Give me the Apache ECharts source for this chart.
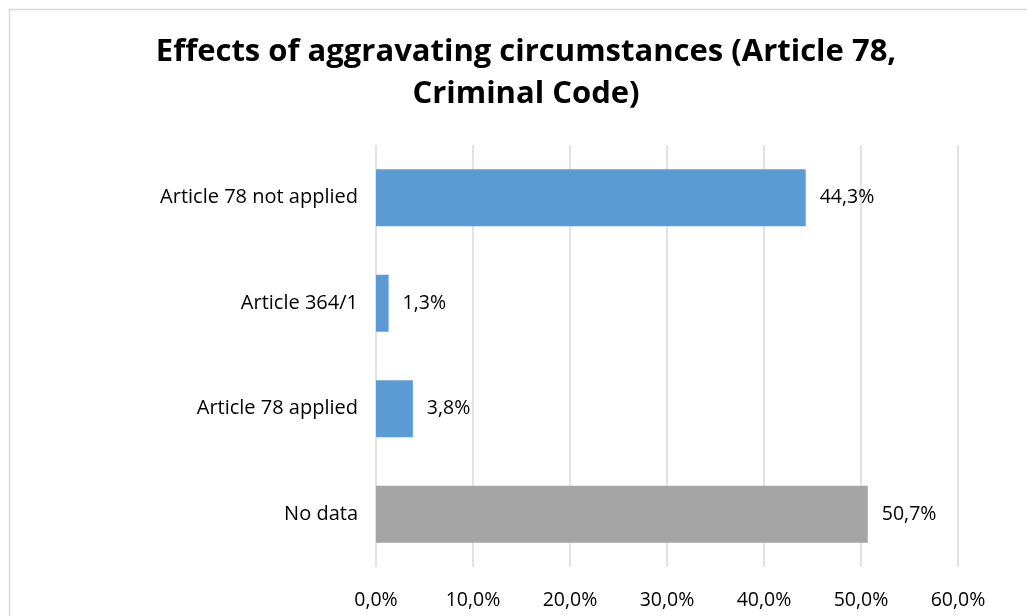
<!DOCTYPE html>
<html>
<head>
<meta charset="utf-8">
<script src="https://cdn.jsdelivr.net/npm/echarts@6/dist/echarts.min.js"></script>
<style>
  html, body { margin: 0; padding: 0; background: #fff; }
  #chart { width: 1027px; height: 616px; }
</style>
</head>
<body>
<div id="chart"></div>
<script>
// categories listed bottom to top (category axis draws first item at the bottom)
const categories = ['No data', 'Article 78 applied', 'Article 364/1', 'Article 78 not applied'];
const values = [50.7, 3.8, 1.3, 44.3];
const barColors = ['#a5a5a5', '#5b9bd5', '#5b9bd5', '#5b9bd5'];
const tickMax = 60;
const tickStep = 10;

const fmt = (v) => v.toFixed(1).replace('.', ',') + '%';

const chart = echarts.init(document.getElementById('chart'));

chart.setOption({
    animation: false,
    textStyle: { fontFamily: 'Open Sans' },
    title: {
        text: 'Effects of aggravating circumstances (Article 78,\nCriminal Code)',
        left: 521,
        textAlign: 'center',
        top: 26,
        textStyle: {
            fontFamily: 'Open Sans',
            fontWeight: 'bold',
            fontSize: 31,
            lineHeight: 42,
            color: '#000'
        }
    },
    graphic: [{
        type: 'rect',
        shape: { x: 9.5, y: 9.5, width: 1040, height: 640 },
        style: { fill: 'none', stroke: '#d9d9d9', lineWidth: 1.5 },
        silent: true
    }],
    grid: { left: 376, right: 69, top: 145, bottom: 49 },
    xAxis: {
        type: 'value',
        min: 0,
        max: tickMax,
        interval: tickStep,
        axisLine: { show: false },
        axisTick: { show: false },
        splitLine: { lineStyle: { color: '#d9d9d9', width: 1.5 } },
        axisLabel: {
            formatter: fmt,
            fontSize: 19.5,
            color: '#000',
            margin: 23
        }
    },
    yAxis: {
        type: 'category',
        data: categories,
        axisLine: { show: false },
        axisTick: { show: false },
        axisLabel: { fontSize: 20, color: '#000', margin: 18 }
    },
    series: [{
        type: 'bar',
        barCategoryGap: '46%',
        data: values.map((v, i) => ({ value: v, itemStyle: { color: barColors[i] } })),
        label: {
            show: true,
            position: 'right',
            distance: 14,
            fontSize: 19.5,
            color: '#000',
            formatter: (p) => fmt(p.value)
        }
    }]
});
</script>
</body>
</html>
